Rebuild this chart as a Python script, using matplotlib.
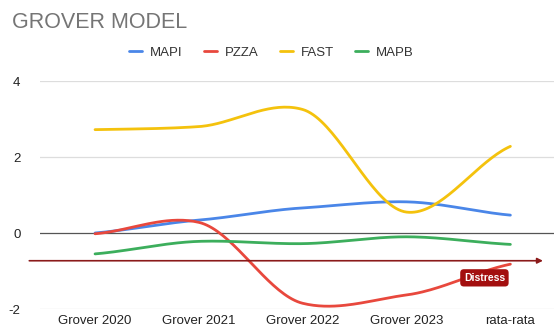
import numpy as np
import matplotlib.pyplot as plt

# data
labels = ['Grover 2020', 'Grover 2021', 'Grover 2022', 'Grover 2023', 'rata-rata']
mapi = [0.0, 0.34, 0.66, 0.82, 0.47]
pzza = [-0.02, 0.28, -1.85, -1.63, -0.82]
fast = [2.72, 2.80, 3.25, 0.55, 2.28]
mapb = [-0.55, -0.22, -0.28, -0.10, -0.30]
distress = -0.73

series = [('MAPI', mapi, '#4a86e8'),
          ('PZZA', pzza, '#e8483d'),
          ('FAST', fast, '#f4c20d'),
          ('MAPB', mapb, '#3cae5c')]


def smooth(y, n=40, k=0.7):
    # hermite curve through the points, tangents damped a bit
    y = np.asarray(y, dtype=float)
    x = np.arange(len(y))
    m = np.zeros_like(y)
    m[1:-1] = k * (y[2:] - y[:-2]) / 2
    m[0] = k * (y[1] - y[0])
    m[-1] = k * (y[-1] - y[-2])
    xs, ys = [], []
    for i in range(len(y) - 1):
        t = np.linspace(0, 1, n)
        h00 = 2*t**3 - 3*t**2 + 1
        h10 = t**3 - 2*t**2 + t
        h01 = -2*t**3 + 3*t**2
        h11 = t**3 - t**2
        xs.append(x[i] + t)
        ys.append(h00*y[i] + h10*m[i] + h01*y[i+1] + h11*m[i+1])
    return np.concatenate(xs), np.concatenate(ys)


plt.rcParams['font.family'] = ['Liberation Sans', 'DejaVu Sans']

fig = plt.figure(figsize=(5.54, 3.29), dpi=100)
ax = fig.add_axes([40/554, 20/329, 514/554, 228/329])

for yv in [-2, 2, 4]:
    ax.axhline(yv, color='#dddddd', lw=0.9, zorder=0)
ax.axhline(0, color='#555555', lw=0.9, zorder=0)

for name, vals, col in series:
    xs, ys = smooth(vals)
    ax.plot(xs, ys, color=col, lw=2, label=name, solid_capstyle='round')

ax.set_xlim(-0.53, 4.42)
ax.set_ylim(-2, 4)
ax.set_yticks([-2, 0, 2, 4])
ax.set_yticklabels(['-2', '0', '2', '4'])
ax.set_xticks(range(len(labels)))
ax.set_xticklabels(labels)
ax.tick_params(length=0, labelsize=9.5, colors='#222222')
ax.tick_params(axis='x', pad=4)
ax.tick_params(axis='y', pad=14)
for s in ax.spines.values():
    s.set_visible(False)

# distress threshold arrow
ax.annotate('', xy=(4.34, distress), xytext=(-0.66, distress),
            arrowprops=dict(arrowstyle='-|>', color='#8b1a1a', lw=1.2,
                            mutation_scale=8),
            annotation_clip=False)
ax.text(3.75, distress - 0.45, 'Distress', color='white', fontsize=7.5,
        fontweight='bold', ha='center', va='center',
        bbox=dict(boxstyle='round,pad=0.35', fc='#a30f0f', ec='none'))

fig.text(12/554, 1 - 22/329, 'GROVER MODEL', fontsize=15.5, color='#757575',
         va='center', ha='left')
fig.legend(loc='center', bbox_to_anchor=(0.49, 1 - 53/329), ncol=4,
           frameon=False, fontsize=9.5, handlelength=1.0, handletextpad=0.6,
           columnspacing=1.6, labelcolor='#333333')

fig.savefig('out.png', dpi=100, facecolor='white')
